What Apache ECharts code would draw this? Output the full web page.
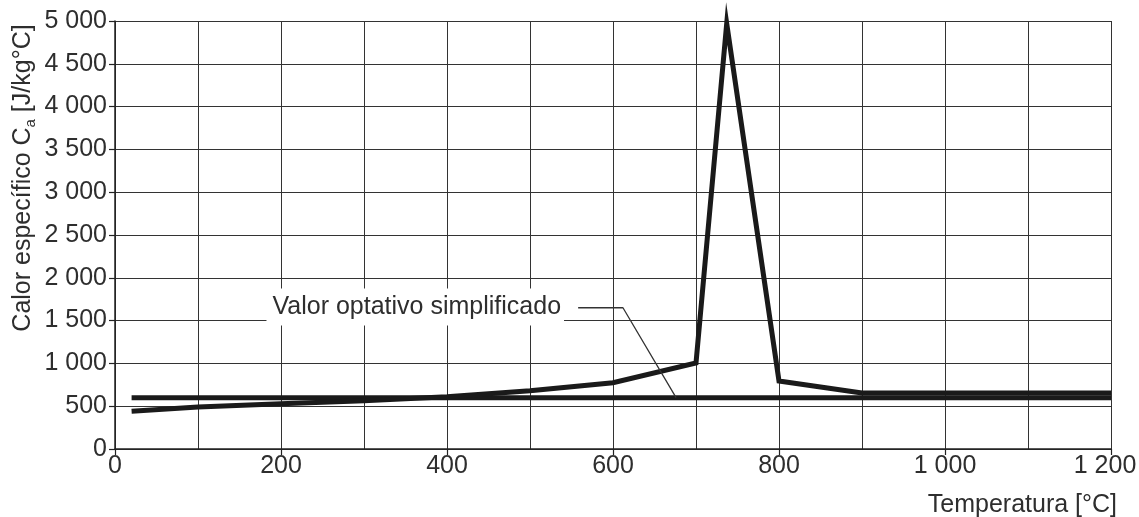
<!DOCTYPE html>
<html>
<head>
<meta charset="utf-8">
<script src="https://cdn.jsdelivr.net/npm/echarts@6/dist/echarts.min.js"></script>
<style>
html,body{margin:0;padding:0;background:#fff;}
#chart{width:1139px;height:517px;}
</style>
</head>
<body>
<div id="chart"></div>
<script>
// Data
const curveTemp = [20, 100, 200, 300, 400, 500, 600, 700, 737, 800, 900, 1200];
const curveCp   = [440, 490, 530, 565, 610, 680, 775, 1005, 4970, 795, 655, 655];
const simpleTemp = [20, 1200];
const simpleCp   = [600, 600];
const leaderTemp = [558, 612, 676];
const leaderCp   = [1650, 1650, 600];
const annotationText = 'Valor optativo simplificado';
const annotationPos = [541, 1660];
const xTicks = [0, 200, 400, 600, 800, 1000, 1200];
const yTicks = [0, 500, 1000, 1500, 2000, 2500, 3000, 3500, 4000, 4500, 5000];

const FONT = "'Liberation Sans', Arial, Helvetica, sans-serif";
const TXT = '#2e2e2e';
const fmt = v => String(v).replace(/\B(?=(\d{3})+(?!\d))/g, ' ');
const zip = (a, b) => a.map((v, i) => [v, b[i]]);
const xMax = xTicks[xTicks.length - 1];

const chart = echarts.init(document.getElementById('chart'));
chart.setOption({
  backgroundColor: '#fff',
  animation: false,
  grid: {left: 115, right: 28, top: 21, bottom: 68, containLabel: false, outerBoundsMode: 'none'},
  xAxis: {
    type: 'value', min: xTicks[0], max: xMax, interval: 200,
    axisLine: {show: true, lineStyle: {color: '#222', width: 1.5}},
    axisTick: {show: true, length: 6, lineStyle: {color: '#222', width: 1.2}},
    axisLabel: {
      formatter: v => v === xMax ? '{last|' + fmt(v) + '}' : fmt(v),
      fontSize: 25, color: TXT, fontFamily: FONT, margin: 5,
      rich: {last: {fontSize: 25, color: TXT, fontFamily: FONT, padding: [0, 12, 0, 0]}}
    },
    splitLine: {show: true, lineStyle: {color: '#333', width: 1}},
    minorTick: {show: false, splitNumber: 2},
    minorSplitLine: {show: true, lineStyle: {color: '#333', width: 1}}
  },
  yAxis: {
    type: 'value', min: yTicks[0], max: yTicks[yTicks.length - 1], interval: 500,
    axisLine: {show: true, lineStyle: {color: '#222', width: 1.5}},
    axisTick: {show: true, length: 6, lineStyle: {color: '#222', width: 1.2}},
    axisLabel: {formatter: fmt, fontSize: 25, color: TXT, fontFamily: FONT, margin: 8},
    splitLine: {show: true, lineStyle: {color: '#333', width: 1}}
  },
  graphic: [
    {
      type: 'text', x: 23, y: 178, rotation: Math.PI / 2,
      style: {
        text: '{m|Calor específico C}{s|a}{m| [J/kg°C]}',
        align: 'center', verticalAlign: 'middle',
        rich: {
          m: {fontSize: 25, fontFamily: FONT, fill: TXT, lineHeight: 30, verticalAlign: 'middle'},
          s: {fontSize: 15, fontFamily: FONT, fill: TXT, lineHeight: 15, verticalAlign: 'bottom'}
        }
      }
    },
    {
      type: 'text', x: 1117, y: 505,
      style: {text: 'Temperatura [°C]', fontSize: 25, fontFamily: FONT, fill: TXT, align: 'right', verticalAlign: 'middle'}
    }
  ],
  series: [
    {
      type: 'line', data: zip(simpleTemp, simpleCp), symbol: 'none', z: 3,
      lineStyle: {color: '#1a1a1a', width: 5}
    },
    {
      type: 'line', data: zip(curveTemp, curveCp), symbol: 'none', z: 4, clip: false,
      lineStyle: {color: '#1a1a1a', width: 5, join: 'miter', miterLimit: 30}
    },
    {
      type: 'line', data: zip(leaderTemp, leaderCp), symbol: 'none', z: 5,
      lineStyle: {color: '#333', width: 1.3}
    },
    {
      type: 'scatter', data: [annotationPos], symbolSize: 0, z: 6, silent: true,
      itemStyle: {color: TXT, opacity: 1},
      label: {
        show: true, position: 'left', distance: 0, formatter: annotationText,
        fontSize: 25, fontFamily: FONT, color: TXT, opacity: 1,
        backgroundColor: '#fff', padding: [6, 3, 6, 6]
      }
    }
  ]
});
</script>
</body>
</html>
